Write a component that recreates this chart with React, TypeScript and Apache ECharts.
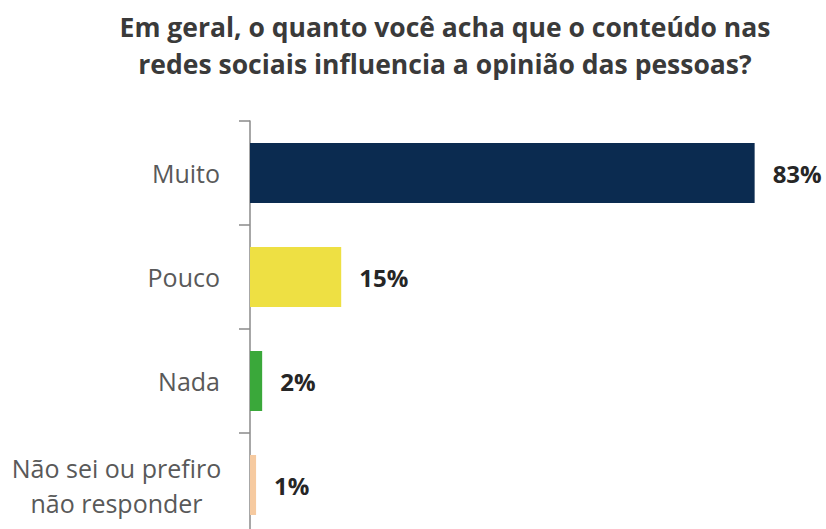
import React, { useEffect, useRef } from "react";
import * as echarts from "echarts";

const titleLines = [
  "Em geral, o quanto você acha que o conteúdo nas",
  "redes sociais influencia a opinião das pessoas?",
];
const categories = ["Muito", "Pouco", "Nada", "Não sei ou prefiro\nnão responder"];
const values = [83, 15, 2, 1];
const barColors = ["#0b2b50", "#eee043", "#3aa83a", "#f6caa0"];

export default function App() {
  const ref = useRef<HTMLDivElement>(null);
  useEffect(() => {
    if (!ref.current) return;
    const chart = echarts.init(ref.current, null, { renderer: "svg" });
    chart.setOption({
      animation: false,
      backgroundColor: "#ffffff",
      title: {
        text: titleLines.join("\n"),
        left: 440,
        top: 3,
        textAlign: "center",
        textStyle: {
          fontFamily: "Open Sans",
          fontWeight: "bold",
          fontSize: 26.5,
          lineHeight: 37,
          color: "#3a3a3a",
        },
      },
      grid: {
        left: 250,
        top: 121,
        width: 608,
        height: 416,
        outerBoundsMode: "none",
        containLabel: false,
      },
      xAxis: {
        type: "value",
        min: 0,
        max: 100,
        show: false,
      },
      yAxis: {
        type: "category",
        inverse: true,
        data: categories,
        axisLine: { show: true, lineStyle: { color: "#8a8a8a", width: 1.5 } },
        axisTick: { show: true, length: 11, lineStyle: { color: "#8a8a8a", width: 1.5 } },
        axisLabel: {
          margin: 30,
          fontFamily: "Open Sans",
          fontSize: 25,
          color: "#595959",
          lineHeight: 35,
          formatter: (v: string) =>
            v.includes("\n")
              ? v
                  .split("\n")
                  .map((l) => `{c|${l}}`)
                  .join("\n")
              : v,
          rich: {
            c: {
              width: 207,
              align: "center",
              fontFamily: "Open Sans",
              fontSize: 25,
              color: "#595959",
              lineHeight: 35,
            },
          },
        },
      },
      series: [
        {
          type: "bar",
          data: values.map((v, i) => ({ value: v, itemStyle: { color: barColors[i] } })),
          barWidth: 60,
          label: {
            show: true,
            position: "right",
            distance: 18,
            formatter: "{c}%",
            fontFamily: "Open Sans",
            fontWeight: "bold",
            fontSize: 24,
            color: "#262626",
          },
        },
      ],
    });
    return () => chart.dispose();
  }, []);
  return (
    <div
      ref={ref}
      style={{ position: "fixed", left: 0, top: 0, width: 826, height: 529 }}
    />
  );
}
